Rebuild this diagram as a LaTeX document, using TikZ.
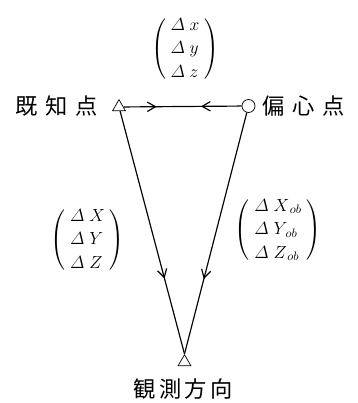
\RequirePackage{fix-cm}
\documentclass[tikz,border=0pt]{standalone}
\usepackage{amsmath}
\usepackage{fontspec}
\newfontfamily\jpfont{Noto Sans CJK JP}
\usetikzlibrary{shapes.geometric,decorations.markings,arrows.meta}
% column vector in round brackets
\newcommand{\dvec}[3]{$\delimiterfactor=800\delimitershortfall=14pt\setlength{\arraycolsep}{4pt}%
  \left(\begin{array}{l}\varDelta\;#1\\\varDelta\;#2\\\varDelta\;#3\end{array}\right)$}
\newcommand{\jsp}{\kern0.35em}
\begin{document}
\begin{tikzpicture}[x=0.03cm, y=-0.03cm, line width=1pt,
  >={Straight Barb[length=7pt,width=8pt,line width=1pt]},
  tri/.style={draw, regular polygon, regular polygon sides=3, inner sep=0pt, minimum size=0.44cm, line width=0.6pt},
  pnt/.style={draw, circle, inner sep=0pt, minimum size=0.39cm, line width=0.6pt},
  jp/.style={font=\jpfont\fontsize{19}{19}\selectfont, inner sep=0pt},
  vec/.style={font=\fontsize{15}{20}\selectfont, inner sep=0pt},
  fwd/.style={postaction={decorate, decoration={markings, mark=at position #1 with {\arrow{>}}}}},
  bwd/.style={postaction={decorate, decoration={markings, mark=at position #1 with {\arrow{<}}}}}]
  \useasboundingbox (0,0) rectangle (357,403);
  % points
  \node[tri] (kichi) at (119,107) {};
  \node[pnt] (henshin) at (248.5,106) {};
  \node[tri] (kansoku) at (184.5,362) {};
  % labels
  \node[jp] (kichilbl) at (56.5,106) {既\jsp 知\jsp 点};
  \node[jp] (henshinlbl) at (303.5,106) {偏\jsp 心\jsp 点};
  \node[jp] (kansokulbl) at (183,389) {観\kern0.15em 測\kern0.15em 方\kern0.15em 向};
  % vectors
  \node[vec] (dxyz) at (185,49) {\dvec{x}{y}{z}};
  \node[vec] (dXYZ) at (87.5,240) {\dvec{X}{Y}{Z}};
  \node[vec] (dXYZob) at (278,230) {\dvec{X_{\,ob}}{Y_{\,ob}}{Z_{\,ob}}};
  % connectors
  \draw[fwd=0.28, bwd=0.74] (kichi) -- (henshin);
  \draw[fwd=0.69] (kichi) -- (kansoku.north);
  \draw[fwd=0.69] (henshin) -- (kansoku.north);
\end{tikzpicture}
\end{document}
